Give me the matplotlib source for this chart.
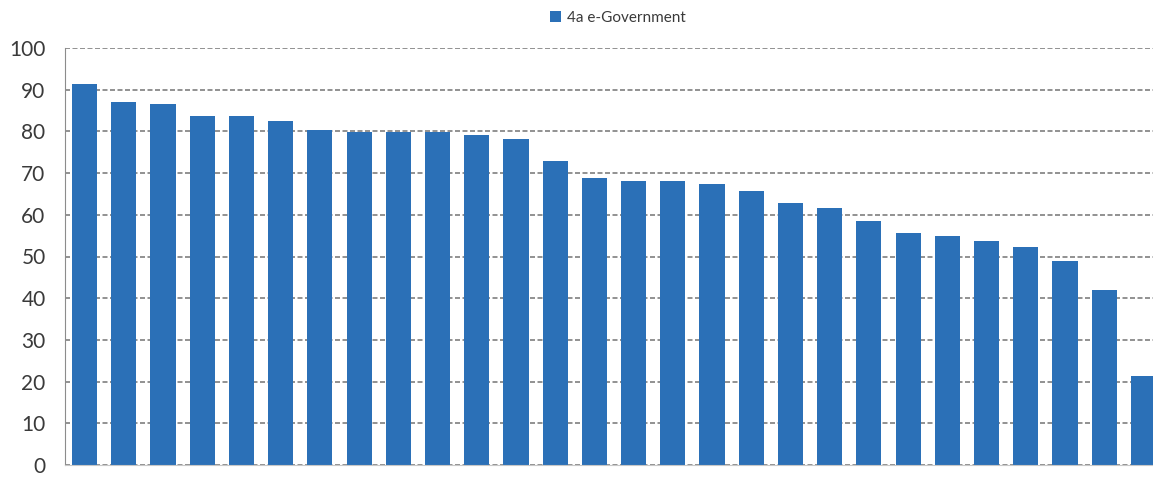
import matplotlib.pyplot as plt

# values (one bar per country, sorted)
labels = ["c%d" % i for i in range(1, 29)]
values = [91.4, 87.1, 86.6, 83.8, 83.8, 82.4, 80.4, 79.9, 79.9, 79.9,
          79.2, 78.2, 73.0, 68.8, 68.0, 68.0, 67.3, 65.6, 62.9, 61.7,
          58.6, 55.7, 55.0, 53.6, 52.2, 49.0, 41.9, 21.3]
series_name = "4a e-Government"
yticks = [0, 10, 20, 30, 40, 50, 60, 70, 80, 90, 100]

W, H = 1153, 479
fig = plt.figure(figsize=(W / 100, H / 100), dpi=100)
plt.rcParams['font.family'] = ['Lato', 'DejaVu Sans']

# the reference crops the right edge of the plot area
ax = fig.add_axes([65 / W, 14 / H, 1098 / W, 417 / H])

x = range(len(values))
bars = ax.bar(x, values, width=0.64, color="#2b70b7", zorder=2, label=series_name)

ax.set_xlim(-0.5, len(values) - 0.5)
ax.set_ylim(0, 100)
ax.set_yticks(yticks)
ax.set_xticks([])
ax.tick_params(axis='y', length=0, pad=14, labelsize=15, labelcolor="#3a3a3a")

ax.grid(axis='y', color="#7f7f7f", linestyle=(0, (3, 1.5)), linewidth=1.2, zorder=0)
for side in ["top", "right"]:
    ax.spines[side].set_visible(False)
ax.spines["left"].set_color("#8c8c8c")
ax.spines["bottom"].set_color("#c8c8c8")

fig.legend(handles=[bars], labels=[series_name], loc="center",
           bbox_to_anchor=(618 / W, 1 - 18 / H), frameon=False,
           fontsize=11, handlelength=0.7, handleheight=0.7, handletextpad=0.4,
           labelcolor="#3a3a3a")

fig.savefig("out.png", dpi=100)
